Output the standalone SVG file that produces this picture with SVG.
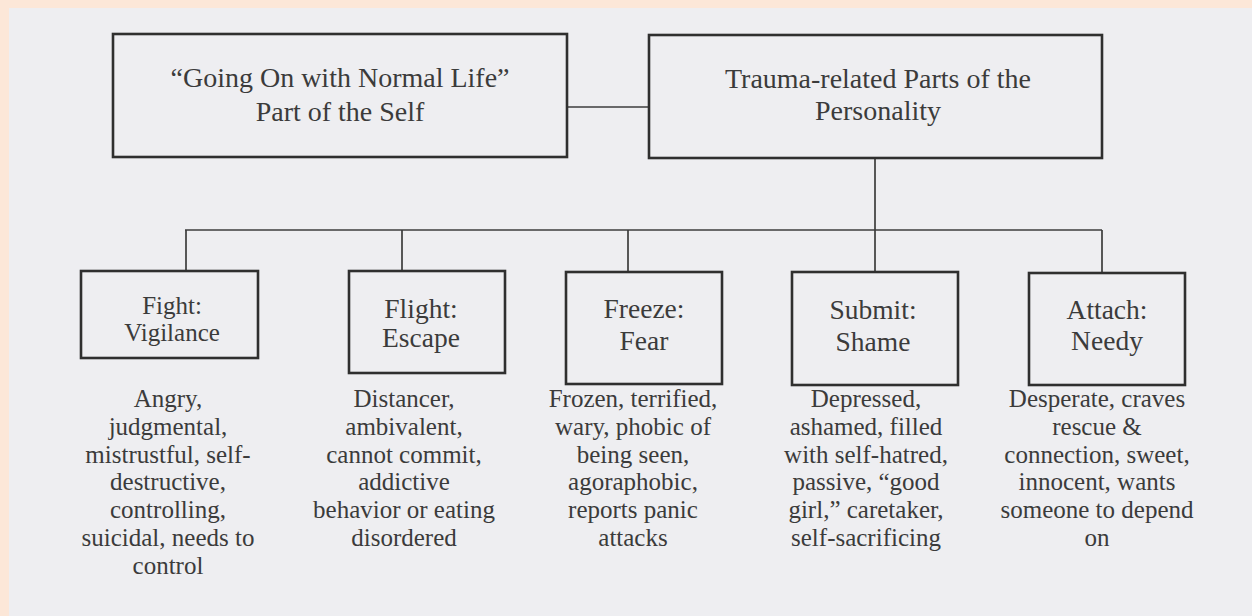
<svg xmlns="http://www.w3.org/2000/svg" width="1252" height="616" viewBox="0 0 1252 616">
<style>
.box{fill:none;stroke:#2f2f2f;stroke-width:2.6}
.conn{fill:none;stroke:#3c3c3c;stroke-width:1.7}
.t{font-family:"Liberation Serif","Times New Roman",serif;fill:#3b3b3b;text-anchor:middle}
.h{font-size:28px}
.m{font-size:27.5px}
.f{font-size:25px}
.s{font-size:25px}
</style>
<rect x="0" y="0" width="1252" height="616" fill="#fce7d8"/>
<rect x="9" y="8" width="1243" height="608" fill="#eeeef1"/>
<g id="connectors">
<path class="conn" d="M567 107H649"/>
<path class="conn" d="M875 159V230"/>
<path class="conn" d="M185 230H1102"/>
<path class="conn" d="M186 230V271"/>
<path class="conn" d="M402 230V271"/>
<path class="conn" d="M628 230V272"/>
<path class="conn" d="M875 230V272"/>
<path class="conn" d="M1102 230V273"/>
</g>
<g id="node-normal-life">
<rect class="box" x="113" y="34" width="454" height="123"/>
<text class="t h" x="340" y="87">“Going On with Normal Life”</text>
<text class="t h" x="340" y="121">Part of the Self</text>
</g>
<g id="node-trauma">
<rect class="box" x="649" y="35" width="453" height="123"/>
<text class="t h" x="878" y="88">Trauma-related Parts of the</text>
<text class="t h" x="878" y="120">Personality</text>
</g>
<g id="node-fight">
<rect class="box" x="81" y="271" width="177" height="87"/>
<text class="t f" x="172" y="314">Fight:</text>
<text class="t f" x="172" y="341">Vigilance</text>
<text class="t s" x="168" y="407">Angry,<tspan x="168" dy="27.8">judgmental,</tspan><tspan x="168" dy="27.8">mistrustful, self-</tspan><tspan x="168" dy="27.8">destructive,</tspan><tspan x="168" dy="27.8">controlling,</tspan><tspan x="168" dy="27.8">suicidal, needs to</tspan><tspan x="168" dy="27.8">control</tspan></text>
</g>
<g id="node-flight">
<rect class="box" x="349" y="271" width="156" height="102"/>
<text class="t m" x="421" y="318">Flight:</text>
<text class="t m" x="421" y="347">Escape</text>
<text class="t s" x="404" y="407">Distancer,<tspan x="404" dy="27.8">ambivalent,</tspan><tspan x="404" dy="27.8">cannot commit,</tspan><tspan x="404" dy="27.8">addictive</tspan><tspan x="404" dy="27.8">behavior or eating</tspan><tspan x="404" dy="27.8">disordered</tspan></text>
</g>
<g id="node-freeze">
<rect class="box" x="566" y="272" width="156" height="112"/>
<text class="t m" x="644" y="318">Freeze:</text>
<text class="t m" x="644" y="350">Fear</text>
<text class="t s" x="633" y="407">Frozen, terrified,<tspan x="633" dy="27.8">wary, phobic of</tspan><tspan x="633" dy="27.8">being seen,</tspan><tspan x="633" dy="27.8">agoraphobic,</tspan><tspan x="633" dy="27.8">reports panic</tspan><tspan x="633" dy="27.8">attacks</tspan></text>
</g>
<g id="node-submit">
<rect class="box" x="792" y="272" width="166" height="113"/>
<text class="t m" x="873" y="319">Submit:</text>
<text class="t m" x="873" y="351">Shame</text>
<text class="t s" x="866" y="407">Depressed,<tspan x="866" dy="27.8">ashamed, filled</tspan><tspan x="866" dy="27.8">with self-hatred,</tspan><tspan x="866" dy="27.8">passive, “good</tspan><tspan x="866" dy="27.8">girl,” caretaker,</tspan><tspan x="866" dy="27.8">self-sacrificing</tspan></text>
</g>
<g id="node-attach">
<rect class="box" x="1029" y="273" width="156" height="112"/>
<text class="t m" x="1107" y="319">Attach:</text>
<text class="t m" x="1107" y="350">Needy</text>
<text class="t s" x="1097" y="407">Desperate, craves<tspan x="1097" dy="27.8">rescue &amp;</tspan><tspan x="1097" dy="27.8">connection, sweet,</tspan><tspan x="1097" dy="27.8">innocent, wants</tspan><tspan x="1097" dy="27.8">someone to depend</tspan><tspan x="1097" dy="27.8">on</tspan></text>
</g>
</svg>
